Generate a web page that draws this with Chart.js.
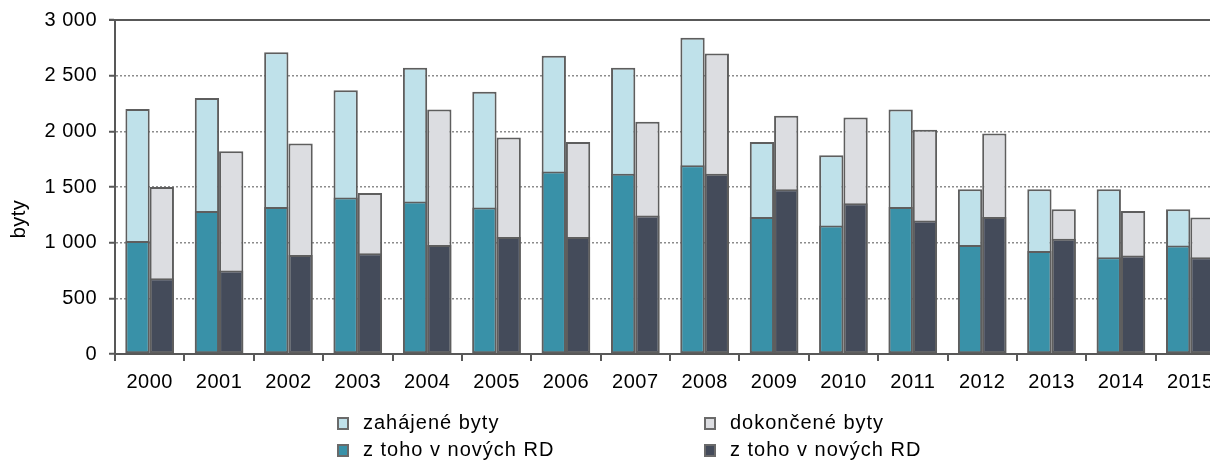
<!DOCTYPE html>
<html lang="cs">
<head>
<meta charset="UTF-8" />
<title>Byty</title>
<script src="https://cdn.jsdelivr.net/npm/chart.js@4.4.0/dist/chart.umd.min.js"></script>
<style>
  body { margin: 0; overflow: hidden; background: #fff; }
  #wrap { position: relative; width: 1225px; height: 461px; }
  .box { position: absolute; width: 8px; height: 9px; border: 2px solid #6a6a6a; }
  .txt { position: absolute; font-family: 'Liberation Sans', Arial, sans-serif; font-size: 20px;
         letter-spacing: 1px; line-height: 22px; color: #000; white-space: nowrap; }
</style>
</head>
<body>
<div id="wrap">
  <canvas id="chart" width="1225" height="461"></canvas>
  <div id="legend"></div>
</div>
<script>
// data
const years = ['2000', '2001', '2002', '2003', '2004', '2005', '2006', '2007',
               '2008', '2009', '2010', '2011', '2012', '2013', '2014', '2015'];
const zahajene    = [2200, 2300, 2710, 2370, 2570, 2355, 2680, 2570, 2840, 1905, 1785, 2195, 1480, 1480, 1480, 1300];
const dokoncene   = [1500, 1820, 1890, 1445, 2195, 1945, 1905, 2085, 2700, 2140, 2125, 2015, 1980, 1300, 1285, 1225];
const zahajeneRD  = [1015, 1285, 1320, 1405, 1370, 1315, 1640, 1620, 1695, 1230, 1155, 1320, 980, 925, 870, 975];
const dokonceneRD = [680, 750, 890, 905, 980, 1050, 1050, 1245, 1620, 1480, 1355, 1200, 1230, 1035, 885, 870];
const yTicks = [0, 500, 1000, 1500, 2000, 2500, 3000];

const FONT = "'Liberation Sans', Arial, sans-serif";
const AXIS = '#585858';

const series = [
  { label: 'zahájené byty',       data: zahajene,    color: '#bfe1ea', stack: 'z', order: 1 },
  { label: 'dokončené byty',      data: dokoncene,   color: '#dcdde1', stack: 'd', order: 1 },
  { label: 'z toho v nových RD',  data: zahajeneRD,  color: '#3991a8', stack: 'z', order: 0 },
  { label: 'z toho v nových RD',  data: dokonceneRD, color: '#444b5a', stack: 'd', order: 0 }
];

function fmt(v) {
  if (v < 1000) return String(v);
  return Math.floor(v / 1000) + ' ' + String(v % 1000).padStart(3, '0');
}

const extras = {
  id: 'extras',
  beforeDraw(chart) {
    chart.ctx.letterSpacing = '0.5px';
  },
  afterDraw(chart) {
    const ctx = chart.ctx, a = chart.chartArea;
    ctx.save();
    ctx.strokeStyle = AXIS;
    ctx.lineWidth = 2;
    ctx.beginPath();
    ctx.moveTo(a.left - 6, a.top);
    ctx.lineTo(a.right, a.top);
    ctx.stroke();
    ctx.translate(19, 219);
    ctx.rotate(-Math.PI / 2);
    ctx.font = '20px ' + FONT;
    ctx.fillStyle = '#000';
    ctx.textAlign = 'center';
    ctx.textBaseline = 'middle';
    ctx.fillText('byty', 0, 0);
    ctx.restore();
  }
};

const ctx = document.getElementById('chart').getContext('2d');
new Chart(ctx, {
  type: 'bar',
  data: {
    labels: years,
    datasets: series.map(s => ({
      label: s.label,
      data: s.data,
      stack: s.stack,
      order: s.order,
      backgroundColor: s.color,
      borderColor: '#5e5e5e',
      borderWidth: 2,
      borderSkipped: false,
      categoryPercentage: 0.7,
      barPercentage: 1.0
    }))
  },
  options: {
    responsive: false,
    animation: false,
    layout: { padding: { top: 20, right: 0, bottom: 67, left: 0 } },
    plugins: { legend: { display: false }, tooltip: { enabled: false } },
    scales: {
      x: {
        stacked: true,
        offset: true,
        grid: { offset: true, drawOnChartArea: false, tickLength: 7, tickColor: AXIS, lineWidth: 2 },
        border: { color: AXIS, width: 2 },
        ticks: { color: '#000', font: { family: FONT, size: 20 }, padding: 9, maxRotation: 0, autoSkip: false },
        afterFit(scale) { scale.height = 40; }
      },
      y: {
        stacked: false,
        min: 0,
        max: 3000,
        afterBuildTicks(scale) { scale.ticks = yTicks.map(v => ({ value: v })); },
        grid: { color: '#8c8c8c', lineWidth: 1.5, tickLength: 6, tickColor: AXIS, tickWidth: 2 },
        border: { color: AXIS, width: 2, dash: [2, 2] },
        ticks: { color: '#000', font: { family: FONT, size: 20 }, padding: 12, callback: v => fmt(v) },
        afterFit(scale) {
          scale.width = 115;
          scale.paddingTop = 0;
          scale.paddingBottom = 0;
        }
      }
    }
  },
  plugins: [extras]
});

// legend in two columns as in the original
const legendPos = [
  { left: 337, top: 417 },
  { left: 704, top: 417 },
  { left: 337, top: 444 },
  { left: 704, top: 444 }
];
const legend = document.getElementById('legend');
series.forEach((s, i) => {
  const p = legendPos[i];
  const box = document.createElement('div');
  box.className = 'box';
  box.style.left = p.left + 'px';
  box.style.top = p.top + 'px';
  box.style.background = s.color;
  legend.appendChild(box);
  const t = document.createElement('div');
  t.className = 'txt';
  t.style.left = (p.left + 26) + 'px';
  t.style.top = (p.top - 6) + 'px';
  t.textContent = s.label;
  legend.appendChild(t);
});
</script>
</body>
</html>
